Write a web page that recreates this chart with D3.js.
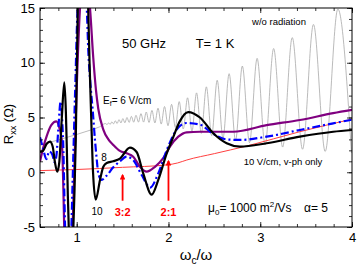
<!DOCTYPE html>
<html><head><meta charset="utf-8">
<script src="https://cdn.jsdelivr.net/npm/d3@7"></script>
<style>
body{margin:0;background:#fff;}
svg{display:block;font-family:"Liberation Sans",Arial,sans-serif;}
</style></head>
<body>
<svg id="chart" width="357" height="267"></svg>
<script>
// ---- data ----
const xTicks = [1, 2, 3, 4];
const yTicks = [-5, 0, 5, 10, 15];
const xDomain = [0.6, 4];
const yDomain = [-5, 15];

// without radiation (gray, extrema of SdH oscillations)
const noRadiation = [[0.6,2.5],[0.8,2.95],[1.0,3.45],[1.15,3.85],[1.25,4.15],
 [1.313,4.45],[1.330,4.35],[1.347,4.5],[1.365,4.38],[1.383,4.6],[1.401,4.42],[1.421,4.7],[1.440,4.45],
 [1.461,4.8],[1.482,4.5],[1.503,4.9],[1.525,4.52],[1.548,5.0],[1.571,4.55],[1.596,5.1],[1.621,4.57],
 [1.646,5.2],[1.673,4.58],[1.700,5.35],[1.729,4.58],[1.758,5.5],[1.788,4.55],[1.820,5.65],[1.852,4.5],
 [1.886,5.85],[1.921,4.4],[1.957,6.0],[1.995,4.25],[2.034,6.2],[2.075,4.1],[2.117,6.45],[2.161,3.95],
 [2.208,6.8],[2.256,3.75],[2.306,7.25],[2.358,3.55],[2.413,7.8],[2.471,3.35],[2.531,8.4],[2.594,3.1],
 [2.661,9.0],[2.731,2.9],[2.805,9.7],[2.883,2.7],[2.966,10.4],[3.053,2.5],[3.146,11.3],[3.244,2.3],
 [3.349,12.3],[3.461,2.1],[3.580,13.5],[3.708,1.9],[3.846,14.9],[3.994,1.75]];

// 10 V/cm, v-ph only (red thin)
const vphOnly = [[0.6,0.15],[1.0,0.25],[1.5,0.45],[1.98,0.67],[2.1,0.85],[2.2,1.12],[2.5,1.7],
 [2.855,2.4],[3.43,3.7],[4.0,4.85]];

// E_f = 6 V/cm (purple)
const purple6 = [[0.6,0.97],[0.64,2.4],[0.673,3.3],[0.723,4.3],[0.778,4.65],[0.81,4.1],[0.836,3.0],
 [0.847,1.0],[0.856,-2],[0.866,-5.5],[0.905,-9],[0.952,-5.5],[0.97,-1],[0.99,5],[1.036,15],[1.09,19],
 [1.145,15],[1.18,10.5],[1.21,7.5],[1.235,5.8],[1.29,3.9],[1.345,3.0],[1.398,2.5],[1.471,1.95],
 [1.544,1.73],[1.616,1.42],[1.689,0.5],[1.762,0.05],[1.853,0.5],[1.943,1.28],[2.016,2.34],[2.107,3.25],
 [2.198,3.65],[2.343,3.7],[2.706,3.7],[3.07,4.3],[3.432,4.77],[3.795,5.4],[4.0,5.7]];

// 8 V/cm (blue dash-dot)
const blue8 = [[0.6,3.2],[0.63,2.3],[0.67,1.2],[0.70,1.9],[0.735,1.6],[0.76,0.9],[0.78,1.6],[0.80,4.0],
 [0.825,6.45],[0.843,4.5],[0.855,2.0],[0.865,-2],[0.875,-5.5],[0.905,-9],[0.94,-5.5],[0.955,-1],
 [0.985,8],[1.01,15],[1.07,20],[1.11,15],[1.126,11.2],[1.15,8],[1.174,5.7],[1.199,2.95],[1.218,1.2],
 [1.235,-0.1],[1.272,-0.7],[1.327,-0.3],[1.398,0.45],[1.471,1.0],[1.544,1.42],[1.616,1.1],[1.708,-0.25],
 [1.80,-1.4],[1.889,-0.1],[1.98,2.0],[2.089,3.9],[2.198,4.5],[2.343,4.35],[2.488,3.5],[2.634,3.0],
 [2.779,2.95],[3.07,3.25],[3.432,3.86],[3.795,4.47],[4.0,4.8]];

// 10 V/cm (black)
const black10 = [[0.6,1.85],[0.633,1.95],[0.673,2.6],[0.709,2.8],[0.738,2.35],[0.763,0.9],[0.788,0.05],
 [0.81,0.9],[0.838,5.0],[0.865,8.2],[0.882,5.5],[0.893,2.0],[0.903,-2.0],[0.915,-5.5],[0.94,-8],
 [0.962,-5.5],[0.975,-2],[0.99,3],[1.012,15],[1.07,22],[1.125,15],[1.14,10],[1.158,5],[1.178,0],
 [1.207,-2.5],[1.254,-0.7],[1.29,0.5],[1.327,0.85],[1.398,1.0],[1.471,1.25],[1.58,2.25],[1.653,1.85],
 [1.725,-0.1],[1.817,-2.05],[1.889,-0.7],[1.98,1.7],[2.052,3.2],[2.12,4.6],[2.215,5.5],[2.343,5.0],
 [2.488,3.56],[2.634,2.65],[2.779,2.34],[3.07,2.65],[3.432,3.25],[3.795,3.7],[4.0,3.86]];

// resonance markers: [x, arrow base y, arrow tip y, label]
const markers = [[1.5,-2.6,-0.25,"3:2"],[2.0,-2.6,1.03,"2:1"]];

// ---- drawing ----
const svg = d3.select("#chart");
const L = 40, R = 352, T = 8, B = 227;
const x = d3.scaleLinear().domain(xDomain).range([L, R]);
const y = d3.scaleLinear().domain(yDomain).range([B, T]);

svg.append("defs").append("clipPath").attr("id","clip")
  .append("rect").attr("x",L).attr("y",T).attr("width",R-L).attr("height",B-T);

const line = d3.line().x(d=>x(d[0])).y(d=>y(d[1])).curve(d3.curveMonotoneX);
const g = svg.append("g").attr("clip-path","url(#clip)");

g.append("path").datum(noRadiation).attr("d",line).attr("fill","none")
  .attr("stroke","#a8a8a8").attr("stroke-width",0.8);
g.append("path").datum(vphOnly).attr("d",line).attr("fill","none")
  .attr("stroke","#ff4040").attr("stroke-width",1);
g.append("path").datum(purple6).attr("d",line).attr("fill","none")
  .attr("stroke","#800080").attr("stroke-width",2.2);
g.append("path").datum(blue8).attr("d",line).attr("fill","none")
  .attr("stroke","#0000ff").attr("stroke-width",2.2).attr("stroke-dasharray","8,3,2,3");
g.append("path").datum(black10).attr("d",line).attr("fill","none")
  .attr("stroke","#000").attr("stroke-width",2.2);

// arrows
svg.append("defs").append("marker").attr("id","ah").attr("viewBox","0 0 10 10")
  .attr("refX",8).attr("refY",5).attr("markerWidth",3.2).attr("markerHeight",3.2).attr("orient","auto")
  .append("path").attr("d","M0,0L10,5L0,10z").attr("fill","#ff0000");
markers.forEach(m=>{
  svg.append("line").attr("x1",x(m[0])).attr("x2",x(m[0])).attr("y1",y(m[1])).attr("y2",y(m[2]))
    .attr("stroke","#ff0000").attr("stroke-width",1.8).attr("marker-end","url(#ah)");
  svg.append("text").attr("x",x(m[0])).attr("y",y(m[1])+15).attr("text-anchor","middle")
    .attr("font-size",11).attr("font-weight","bold").attr("fill","#ff0000").text(m[3]);
});

// axes with inward ticks
function addAxis(axisFn, pos, values, size, labels){
  const a = axisFn.tickValues(values).tickSizeInner(size).tickSizeOuter(0).tickPadding(4);
  a.tickFormat(labels ? d3.format("d") : "");
  const gg = svg.append("g").attr("transform",pos).call(a);
  gg.select(".domain").remove();
  gg.selectAll("line").attr("stroke","#000").attr("stroke-width",0.8);
  gg.selectAll("text").attr("font-size",13).attr("fill","#000")
    .attr("font-family","Liberation Sans, Arial, sans-serif");
  return gg;
}
const xMinor = d3.range(6, 41, 2).map(v=>v/10);
const yMinor = d3.range(-5, 16, 1);
addAxis(d3.axisBottom(x), `translate(0,${B})`, xMinor, -3, false);
const xl = addAxis(d3.axisBottom(x), `translate(0,${B})`, xTicks, -5, true);
xl.selectAll("text").text(d=>String(d)).attr("y",6);
addAxis(d3.axisTop(x), `translate(0,${T})`, xMinor, -3, false);
addAxis(d3.axisTop(x), `translate(0,${T})`, xTicks, -5, false);
addAxis(d3.axisLeft(y), `translate(${L},0)`, yMinor, -3, false);
const yl = addAxis(d3.axisLeft(y), `translate(${L},0)`, yTicks, -5, true);
yl.selectAll("text").attr("x",-5).text(d=>d<0 ? "-"+Math.abs(d) : String(d));
addAxis(d3.axisRight(y), `translate(${R},0)`, yMinor, -3, false);
addAxis(d3.axisRight(y), `translate(${R},0)`, yTicks, -5, false);

svg.append("rect").attr("x",L).attr("y",T).attr("width",R-L).attr("height",B-T)
  .attr("fill","none").attr("stroke","#000").attr("stroke-width",1);

// axis titles
const yt = svg.append("text").attr("transform","translate(13,124) rotate(-90)")
  .attr("text-anchor","middle").attr("font-size",13);
yt.append("tspan").text("R");
yt.append("tspan").attr("font-size",9).attr("dy",3).text("xx");
yt.append("tspan").attr("dy",-3).text(" (Ω)");

const xt = svg.append("text").attr("x",196).attr("y",260).attr("text-anchor","middle").attr("font-size",15);
xt.append("tspan").text("ω");
xt.append("tspan").attr("font-size",10).attr("dy",4).text("c");
xt.append("tspan").attr("dy",-4).text("/ω");

// annotations
svg.append("text").attr("x",144).attr("y",48).attr("text-anchor","middle").attr("font-size",13).text("50 GHz");
svg.append("text").attr("x",215).attr("y",48).attr("text-anchor","middle").attr("font-size",13).text("T= 1 K");
svg.append("text").attr("x",279).attr("y",25).attr("text-anchor","middle").attr("font-size",9.5).text("w/o radiation");
const ef = svg.append("text").attr("x",103).attr("y",104).attr("font-size",10);
ef.append("tspan").text("E");
ef.append("tspan").attr("font-size",7).attr("dy",2).text("f");
ef.append("tspan").attr("dy",-2).text("= 6 V/cm");
svg.append("text").attr("x",104).attr("y",161).attr("text-anchor","middle").attr("font-size",10).text("8");
svg.append("text").attr("x",97).attr("y",215).attr("text-anchor","middle").attr("font-size",10).text("10");
svg.append("text").attr("x",283).attr("y",165).attr("text-anchor","middle").attr("font-size",9.5).text("10 V/cm, v-ph only");
const mu = svg.append("text").attr("x",208).attr("y",212).attr("font-size",12);
mu.append("tspan").text("μ");
mu.append("tspan").attr("font-size",8).attr("dy",3).text("0");
mu.append("tspan").attr("dy",-3).text("= 1000 m");
mu.append("tspan").attr("font-size",8).attr("dy",-5).text("2");
mu.append("tspan").attr("dy",5).text("/Vs");
svg.append("text").attr("x",304).attr("y",212).attr("font-size",12).text("α= 5");
</script>
</body></html>
